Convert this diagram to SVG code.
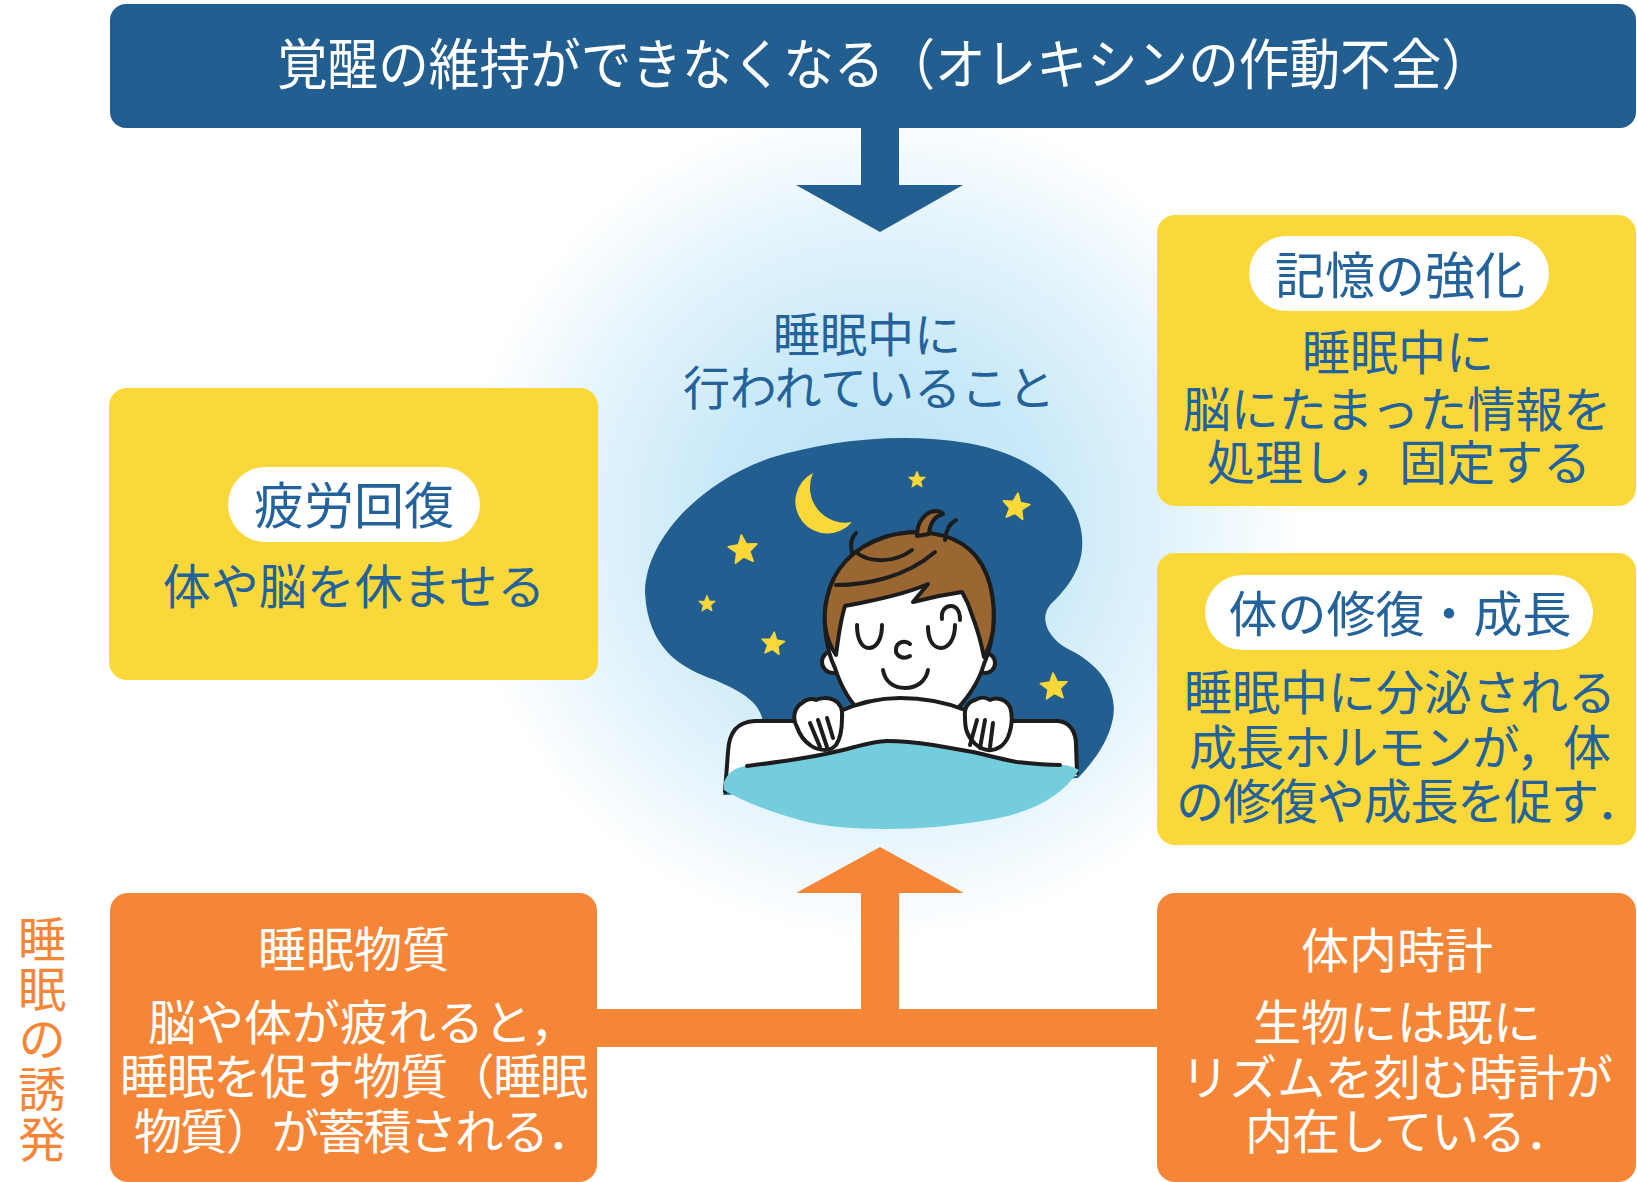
<svg xmlns="http://www.w3.org/2000/svg" width="1637" height="1182" viewBox="0 0 1637 1182">
  <style>
    text { font-family: "Noto Sans CJK JP", "Noto Sans", sans-serif; font-weight: 400; }
    .title { fill: #ffffff; font-size: 55px; }
    .mid { fill: #23629a; font-size: 47px; text-anchor: middle; }
    .pilltxt { fill: #23629a; font-size: 50px; text-anchor: middle; }
    .body { fill: #23629a; font-size: 48px; text-anchor: middle; }
    .bodyl { fill: #23629a; font-size: 48px; }
    .wbody { fill: #ffffff; font-size: 48px; text-anchor: middle; }
    .wbodyl { fill: #ffffff; font-size: 48px; }
    .side { fill: #f58638; font-size: 48px; writing-mode: vertical-rl; letter-spacing: 2px; }
    .yellow { fill: #fad839; }
    .orange { fill: #f58638; }
    .navy { fill: #225f90; }
    .pill { fill: #ffffff; }
    .ink { fill: none; stroke: #1c1c1c; stroke-width: 4; stroke-linecap: round; stroke-linejoin: round; }
    .inkfill { stroke: #1c1c1c; stroke-width: 4; stroke-linejoin: round; }
    .star { fill: #fad839; stroke: #fad839; stroke-width: 0.12; stroke-linejoin: round; }
  </style>
  <defs>
    <radialGradient id="glow" cx="880" cy="520" r="420" gradientUnits="userSpaceOnUse">
      <stop offset="0" stop-color="#bbe3f6"/>
      <stop offset="0.4" stop-color="#c9e9f8"/>
      <stop offset="0.72" stop-color="#e4f4fc"/>
      <stop offset="1" stop-color="#ffffff"/>
    </radialGradient>
    <path id="star5" d="M0,-1 L0.2645,-0.364 L0.951,-0.309 L0.428,0.139 L0.588,0.809 L0,0.45 L-0.588,0.809 L-0.428,0.139 L-0.951,-0.309 L-0.2645,-0.364 Z"/>
  </defs>

  <rect width="1637" height="1182" fill="#ffffff"/>
  <circle cx="880" cy="520" r="420" fill="url(#glow)"/>

  <!-- connectors -->
  <g id="connectors">
    <path class="navy" d="M861,120 L899,120 L899,185 L963,185 L880,232 L796,185 L861,185 Z"/>
    <path class="orange" d="M597,1009 L861,1009 L861,893 L796,893 L880,847 L964,893 L899,893 L899,1009 L1160,1009 L1160,1047 L597,1047 Z"/>
  </g>

  <!-- header -->
  <g id="node-header">
    <rect class="navy" x="110" y="4" width="1526" height="124" rx="16"/>
    <text class="title" x="277" y="84" textLength="1215" lengthAdjust="spacingAndGlyphs">覚醒の維持ができなくなる（オレキシンの作動不全）</text>
  </g>

  <!-- centre: what happens during sleep -->
  <g id="node-center">
    <text class="mid" x="867" y="352">睡眠中に</text>
    <text class="mid" x="869" y="405">行われていること</text>

    <g id="sleep-scene">
      <!-- night sky -->
      <path fill="#225e8f" d="M645,593 C645,540 700,482 770,458 C830,440 900,432 967,443 C1020,452 1068,480 1080,525 C1090,565 1065,590 1050,605 C1038,620 1050,640 1070,650 C1100,665 1118,690 1113,718 C1108,745 1090,765 1078,778 L723,795 L763,722 C760,702 742,692 715,680 C680,668 648,648 645,593 Z"/>
      <!-- moon -->
      <path fill="#fad839" d="M813,473 A32,32 0 1,0 852,522 A35.3,35.3 0 0,1 813,473 Z"/>
      <!-- stars -->
      <use href="#star5" class="star" transform="translate(917,480) scale(8.5)"/>
      <use href="#star5" class="star" transform="translate(1016,507) rotate(8) scale(14)"/>
      <use href="#star5" class="star" transform="translate(743,550) rotate(-6) scale(15)"/>
      <use href="#star5" class="star" transform="translate(707,604) scale(8.5)"/>
      <use href="#star5" class="star" transform="translate(773,644) rotate(6) scale(12)"/>
      <use href="#star5" class="star" transform="translate(1054,687) rotate(-4) scale(14)"/>

      <!-- ears -->
      <circle class="inkfill" fill="#ffffff" cx="833" cy="662" r="11"/>
      <circle class="inkfill" fill="#ffffff" cx="985" cy="663" r="10"/>
      <!-- head -->
      <path class="inkfill" fill="#ffffff" d="M835,668 C826,650 822,620 827,598 C833,570 852,548 885,537 C915,528 950,532 970,550 C990,568 996,600 993,630 C991,645 988,655 984,664 C978,685 965,702 950,716 L865,716 C852,705 842,690 835,668 Z"/>
      <!-- hair -->
      <path class="inkfill" fill="#9a6632" d="M836,655 C826,640 822,620 827,598 C833,570 852,548 885,537 C915,528 950,532 970,550 C990,568 996,600 993,630 C991,642 988,650 984,657 C981,642 977,628 972,615 C969,605 965,597 962,592 C948,594 928,598 913,602 L928,584 C910,592 885,598 865,602 C856,604 850,605 845,606 C840,622 838,640 836,655 Z"/>
      <!-- cowlick and strands -->
      <path class="inkfill" fill="#9a6632" d="M917,536 C917,522 925,512 935,511 C939,511 942,512 943,514 C936,516 930,522 929,534 Z"/>
      <path class="ink" d="M945,540 C946,530 950,523 956,520"/>
      <path class="ink" d="M852,553 C850,545 851,538 856,533"/>
      <path class="ink" d="M857,553 C870,563 895,563 912,550"/>
      <path class="ink" d="M836,585 C865,585 905,578 935,552"/>
      <!-- face -->
      <path class="ink" stroke-width="3.5" d="M857,625 C857,640 862,648 869,648 C876,648 882,640 882,625"/>
      <path class="ink" stroke-width="3.5" d="M928,627 C928,641 934,648 941,648 C948,648 955,640 955,625"/>
      <path class="ink" stroke-width="3.5" d="M942,619 C941,611 945,606 951,606 C957,606 960,612 960,620"/>
      <path class="ink" stroke-width="3.5" d="M910,644 C906,640 897,641 896,649 C895,656 903,660 910,656"/>
      <path class="ink" stroke-width="3.5" d="M883,670 C885,682 894,688 905,688 C917,688 926,681 928,670"/>

      <!-- bed / pillow -->
      <path fill="#ffffff" d="M725,792 L728,752 C729,732 737,722 755,721 L1058,721 C1070,722 1076,732 1076,745 L1077,776 Z"/>
      <path class="ink" d="M725,792 L728,752 C729,732 737,722 755,721 L1058,721 C1070,722 1076,732 1076,745 L1077,773"/>
      <!-- blanket fold -->
      <path fill="#ffffff" d="M838,712 C860,702 880,698 900,698 C925,698 945,702 965,710 L975,760 L830,760 Z"/>
      <path class="ink" d="M838,712 C860,702 880,698 900,698 C925,698 945,702 965,710"/>
      <!-- blanket -->
      <path fill="#74cddc" d="M724,782 C728,772 736,767 747,766 C780,762 815,757 843,750 C862,745 875,741 887,741 C905,741 920,743 933,745 C950,748 962,750 973,752 C995,757 1010,761 1017,762 C1035,764 1050,765 1060,765 C1068,765 1074,767 1079,770 C1062,797 1030,814 983,821 C950,826 920,829 887,829 C850,829 820,826 800,820 C770,812 740,800 724,790 Z"/>
      <path class="ink" d="M747,766 C780,762 815,757 843,750 C862,745 875,741 887,741 C905,741 920,743 933,745 C950,748 962,750 973,752 C995,757 1010,761 1017,762 C1035,764 1050,765 1060,765"/>
      <!-- hands -->
      <path class="inkfill" fill="#ffffff" d="M797,727 C792,718 794,708 802,703 C806,699 812,698 816,700 C820,698 828,697 834,700 C840,703 843,710 842,718 C842,728 841,738 836,745 C830,752 818,751 810,745 C803,740 799,733 797,727 Z"/>
      <path class="ink" stroke-width="3" d="M810,723 L820,747 M818,720 L827,747 M827,718 L833,738"/>
      <path class="inkfill" fill="#ffffff" d="M965,717 C964,708 968,702 975,700 C980,697 986,697 990,700 C996,697 1004,699 1008,704 C1013,710 1013,725 1008,737 C1004,746 996,751 988,750 C978,749 970,740 967,732 C965,727 965,722 965,717 Z"/>
      <path class="ink" stroke-width="3" d="M977,720 L970,745 M985,720 L980,748 M993,723 L990,747"/>
    </g>
  </g>

  <!-- fatigue recovery -->
  <g id="node-fatigue">
    <rect class="yellow" x="109" y="388" width="489" height="292" rx="18"/>
    <rect class="pill" x="228" y="467" width="252" height="75" rx="37.5"/>
    <text class="pilltxt" x="354" y="524">疲労回復</text>
    <text class="body" x="354" y="604">体や脳を休ませる</text>
  </g>

  <!-- memory consolidation -->
  <g id="node-memory">
    <rect class="yellow" x="1157" y="215" width="479" height="291" rx="18"/>
    <rect class="pill" x="1249" y="236" width="300" height="75" rx="37.5"/>
    <text class="pilltxt" x="1400" y="294">記憶の強化</text>
    <text class="body" x="1398" y="370">睡眠中に</text>
    <text class="body" x="1397" y="427">脳にたまった情報を</text>
    <text class="body" x="1399" y="480">処理し，固定する</text>
  </g>

  <!-- body repair and growth -->
  <g id="node-growth">
    <rect class="yellow" x="1157" y="553" width="479" height="292" rx="18"/>
    <rect class="pill" x="1205" y="575" width="388" height="75" rx="37.5"/>
    <text class="pilltxt" x="1400" y="632" style="font-size:49px">体の修復・成長</text>
    <text class="body" x="1400" y="710">睡眠中に分泌される</text>
    <text class="body" x="1400" y="765" textLength="422">成長ホルモンが，体</text>
    <text class="bodyl" x="1176" y="819" textLength="468">の修復や成長を促す．</text>
  </g>

  <!-- side label -->
  <g id="label-induction">
    <text class="side" x="42" y="915">睡眠の誘発</text>
  </g>

  <!-- sleep substances -->
  <g id="node-substance">
    <rect class="orange" x="110" y="893" width="487" height="289" rx="18"/>
    <text class="wbody" x="354" y="967">睡眠物質</text>
    <text class="wbodyl" x="148" y="1040">脳や体が疲れると，</text>
    <text class="wbody" x="354" y="1094" textLength="468">睡眠を促す物質（睡眠</text>
    <text class="wbodyl" x="134" y="1149" textLength="461">物質）が蓄積される．</text>
  </g>

  <!-- body clock -->
  <g id="node-clock">
    <rect class="orange" x="1157" y="893" width="479" height="289" rx="18"/>
    <text class="wbody" x="1397" y="968">体内時計</text>
    <text class="wbody" x="1397" y="1040">生物には既に</text>
    <text class="wbody" x="1397" y="1095">リズムを刻む時計が</text>
    <text class="wbodyl" x="1245" y="1149" textLength="328">内在している．</text>
  </g>
</svg>
